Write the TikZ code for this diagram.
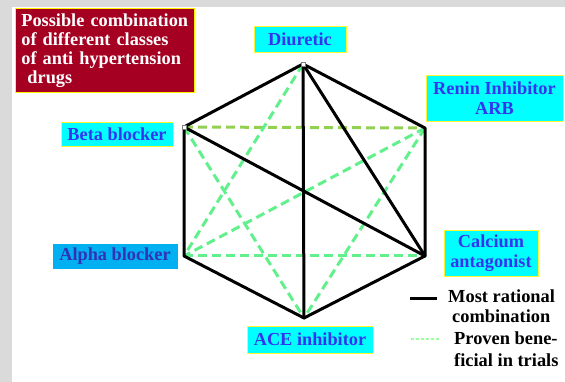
\documentclass[tikz,border=0pt]{standalone}
\usepackage{fontspec}
\setmainfont{Liberation Serif}
\definecolor{slidegrey}{HTML}{DADADA}
\definecolor{titlered}{HTML}{A50021}
\definecolor{boxcyan}{HTML}{00FFFF}
\definecolor{boxsky}{HTML}{00B0F0}
\definecolor{labelblue}{HTML}{3535F0}
\definecolor{alphablue}{HTML}{3232B8}
\definecolor{trialgreen}{HTML}{62F08C}
\definecolor{olivegreen}{HTML}{92D050}
\definecolor{legendgreen}{HTML}{9CFF9C}
\begin{document}
\begin{tikzpicture}[x=1pt, y=-1pt,
    drugbox/.style={draw=yellow!80!white, fill=boxcyan, line width=0.8pt, text=labelblue, font=\fontsize{18.3}{19.5}\selectfont\bfseries, align=center, inner sep=0pt},
    rational/.style={line width=3pt, line cap=round, line join=round},
    trial/.style={line width=3pt, trialgreen, dash pattern=on 9pt off 5pt},
    handle/.style={draw=gray, fill=white, line width=0.5pt, minimum size=4pt, inner sep=0pt}]
    \useasboundingbox (0,0) rectangle (565,382);
    % slide edges
    \fill[slidegrey] (0,0) rectangle (565,7);
    \fill[slidegrey] (0,0) rectangle (12,382);

    % hexagon corners
    \coordinate (diu) at (303,64);
    \coordinate (beta) at (184,127);
    \coordinate (renin) at (425,128);
    \coordinate (alpha) at (184,256);
    \coordinate (calc) at (425,256);
    \coordinate (ace) at (304,318);

    % proven beneficial in trials
    \draw[trial, olivegreen] (beta) -- (renin);
    \draw[trial] (alpha) -- (calc);
    \draw[trial] (diu) -- (alpha);
    \draw[trial] (beta) -- (ace);
    \draw[trial] (renin) -- (alpha);
    \draw[trial] (renin) -- (ace);

    % most rational combination
    \draw[rational] (diu) -- (beta) -- (alpha) -- (ace) -- (calc) -- (renin) -- (diu);
    \draw[rational] (diu) -- (ace);
    \draw[rational] (diu) -- (calc);
    \draw[rational] (beta) -- (calc);

    \node[handle] (hdiu) at (diu) {};
    \node[handle] (hbeta) at (beta) {};

    % title
    \node[draw=yellow, fill=titlered, line width=0.8pt, anchor=north west, text=white,
          font=\fontsize{18.3}{19}\selectfont\bfseries, text width=167pt, align=left,
          minimum height=84pt, inner xsep=6pt, inner ysep=3pt] (title) at (15,8)
          {Possible combination\\of different classes\\of anti hypertension\\\ drugs};

    % drug classes
    \node[drugbox, minimum width=92pt, minimum height=26pt] (ldiu) at (300,39) {Diuretic};
    \node[drugbox, minimum width=137pt, minimum height=46pt] (lrenin) at (494.5,98) {Renin Inhibitor\\ARB};
    \node[drugbox, minimum width=112pt, minimum height=24pt] (lbeta) at (117,134) {Beta blocker};
    \node[drugbox, draw=boxsky, fill=boxsky, text=alphablue, minimum width=124pt, minimum height=24pt] (lalpha) at (115,256) {Alpha blocker};
    \node[drugbox, minimum width=94pt, minimum height=46pt] (lcalc) at (491,253) {Calcium\\antagonist};
    \node[drugbox, minimum width=126pt, minimum height=27pt] (lace) at (310,339.5) {ACE inhibitor};

    % legend
    \coordinate (keyA1) at (410,298);
    \coordinate (keyA2) at (437,298);
    \coordinate (keyB1) at (411,339);
    \coordinate (keyB2) at (441,339);
    \draw[line width=3pt] (keyA1) -- (keyA2);
    \draw[line width=2.5pt, legendgreen, dash pattern=on 2.5pt off 2.5pt] (keyB1) -- (keyB2);
    \node[anchor=west, align=left, inner sep=0pt, font=\fontsize{18.4}{20}\selectfont\bfseries] (keyA) at (448,306) {Most rational\\\hspace*{4pt}combination};
    \node[anchor=west, align=left, inner sep=0pt, font=\fontsize{18.4}{22}\selectfont\bfseries] (keyB) at (454,349) {Proven bene-\\ficial in trials};
\end{tikzpicture}
\end{document}
